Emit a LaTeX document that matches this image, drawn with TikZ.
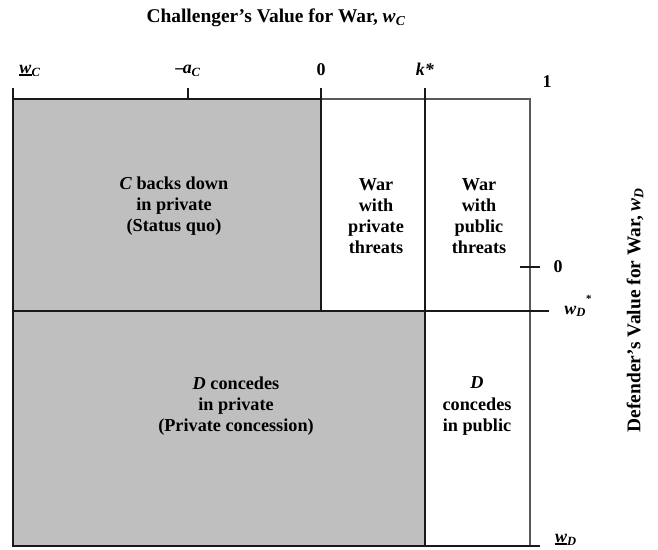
\documentclass[tikz,border=0pt]{standalone}
\usepackage{fontspec}
\setmainfont{Liberation Serif}
\newsavebox{\wbox}
\newcommand{\uw}{\sbox{\wbox}{\textit{w}}\rlap{\rule[-2.6pt]{\wd\wbox}{2pt}}\usebox{\wbox}}
\begin{document}
\begin{tikzpicture}[x=1bp,y=-1bp,
  lbl/.style={font=\bfseries\fontsize{18}{21}\selectfont, inner sep=0pt},
  axt/.style={font=\bfseries\fontsize{19.5}{22}\selectfont, inner sep=0pt},
  reg/.style={font=\bfseries\fontsize{18.3}{21.2}\selectfont, align=center, inner sep=0pt},
  ln/.style={line width=1.3pt, draw=black!90},
  lng/.style={line width=1.3pt, draw=black!65},
  gfill/.style={fill=black!25}]
\useasboundingbox (0,0) rectangle (658,550);
\newcommand{\wsub}[1]{\textit{w}\textsubscript{\textit{#1}}}
% fills
\fill[gfill] (13,99) rectangle (321,311);
\fill[gfill] (13,311) rectangle (425,546);
% coordinates
\coordinate (tl) at (13,99);
\coordinate (tz) at (321,99);
\coordinate (tr) at (530,99);
\coordinate (bl) at (13,546);
\coordinate (br) at (530,546);
\coordinate (t0) at (13,88);
\coordinate (ta) at (188,88);
\coordinate (ta2) at (188,99);
\coordinate (z0) at (321,88);
\coordinate (z1) at (321,311);
\coordinate (k0) at (425,88);
\coordinate (k1) at (425,546);
\coordinate (h0) at (13,311);
\coordinate (h1) at (549,311);
\coordinate (b1) at (540,546);
\coordinate (r0a) at (520,267);
\coordinate (r0b) at (540,267);
% lines
\draw[lng] (tz) -- (tr) -- (br);
\draw[ln] (tl) -- (tz);
\draw[ln] (t0) -- (bl) -- (b1);
\draw[ln] (ta) -- (ta2);
\draw[ln] (z0) -- (z1);
\draw[ln] (k0) -- (k1);
\draw[ln] (h0) -- (h1);
\draw[ln] (r0a) -- (r0b);
% labels
\node[axt] (title) at (276,18) {Challenger’s Value for War, \wsub{C}};
\node[lbl] (lwc) at (30,71) {\uw\textsubscript{\textit{C}}};
\node[lbl] (lac) at (188,71) {–\kern-1.5pt\textit{a}\textsubscript{\textit{C}}};
\node[lbl] (l0) at (321,70) {0};
\node[lbl] (lk) at (425,69) {\textit{k*}};
\node[lbl] (l1) at (547,82) {1};
\node[lbl] (r0) at (558,267) {0};
\node[lbl] (rwds) at (578,306) {\wsub{D}\raisebox{1.4ex}{\fontsize{11}{11}\selectfont *}};
\node[lbl] (rwd) at (566,540) {\uw\textsubscript{\textit{D}}};
\node[axt, rotate=90] (ylab) at (635,310) {Defender’s Value for War, \wsub{D}};
% regions
\node[reg] (r1) at (174,206) {\textit{C} backs down\\in private\\(Status quo)};
\node[reg] (r2) at (376,216) {War\\with\\private\\threats};
\node[reg] (r3) at (479,216) {War\\with\\public\\threats};
\node[reg] (r4) at (236,406) {\textit{D} concedes\\in private\\(Private concession)};
\node[reg] (r5) at (477,406) {\textit{D}\\concedes\\in public};
\end{tikzpicture}
\end{document}
